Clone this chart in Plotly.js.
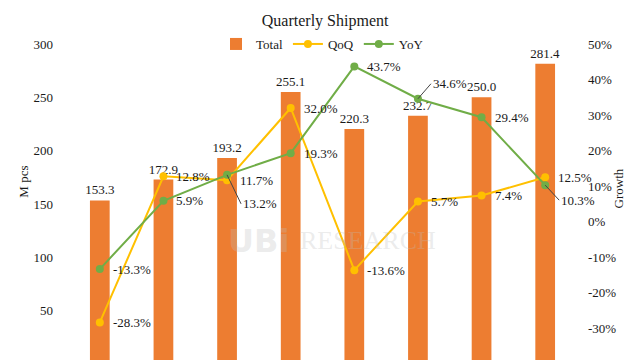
<!DOCTYPE html>
<html>
<head>
<meta charset="utf-8">
<script src="https://cdn.plot.ly/plotly-3.0.1.min.js"></script>
<style>
html,body{margin:0;padding:0;overflow:hidden;background:#fff;}
#chart{width:640px;height:372px;}
</style>
</head>
<body>
<div id="chart"></div>
<script>
const categories = ["Q1","Q2","Q3","Q4","Q5","Q6","Q7","Q8"];
const totalValues = [153.3, 172.9, 193.2, 255.1, 220.3, 232.7, 250.0, 281.4];
const qoqValues = [-0.283, 0.128, 0.117, 0.320, -0.136, 0.057, 0.074, 0.125];
const yoyValues = [-0.133, 0.059, 0.132, 0.193, 0.437, 0.346, 0.294, 0.103];
const totalLabels = ["153.3","172.9","193.2","255.1","220.3","232.7","250.0","281.4"];
const qoqLabels = ["-28.3%","12.8%","11.7%","32.0%","-13.6%","5.7%","7.4%","12.5%"];
const yoyLabels = ["-13.3%","5.9%","13.2%","19.3%","43.7%","34.6%","29.4%","10.3%"];
const leftTickVals = [50, 100, 150, 200, 250, 300];
const rightTickVals = [-0.3, -0.2, -0.1, 0, 0.1, 0.2, 0.3, 0.4, 0.5];
const rightTickText = ["-30%","-20%","-10%","0%","10%","20%","30%","40%","50%"];
// indices of YoY labels drawn with a leader line
const yoyLeader = [2, 5, 7];
const yoyLeaderOffsets = [[14, 29], [13, -15], [14, 15]];

const FONT = "Liberation Serif, Times New Roman, serif";
const TXT = "#1a1a1a";

const traces = [
  {
    type: "bar", name: "Total", x: categories, y: totalValues,
    text: totalLabels, textposition: "outside", cliponaxis: false, constraintext: "none",
    textfont: {family: FONT, size: 13, color: TXT},
    marker: {color: "#ED7D31"}, width: 0.31, yaxis: "y"
  },
  {
    type: "scatter", mode: "lines+markers", name: "QoQ", x: categories, y: qoqValues,
    line: {color: "#FFC000", width: 2}, marker: {color: "#FFC000", size: 8}, yaxis: "y2"
  },
  {
    type: "scatter", mode: "lines+markers", name: "YoY", x: categories, y: yoyValues,
    line: {color: "#70AD47", width: 2}, marker: {color: "#70AD47", size: 8}, yaxis: "y2"
  }
];

const labelFont = {family: FONT, size: 13, color: TXT};
const annotations = [];
qoqLabels.forEach((t, i) => annotations.push({
  x: categories[i], y: qoqValues[i], xref: "x", yref: "y2", text: t, showarrow: false,
  xanchor: "left", yanchor: "middle", xshift: 11, font: labelFont
}));
yoyLabels.forEach((t, i) => {
  const k = yoyLeader.indexOf(i);
  if (k >= 0) {
    annotations.push({
      x: categories[i], y: yoyValues[i], xref: "x", yref: "y2", text: t,
      showarrow: true, arrowhead: 0, arrowwidth: 1, arrowcolor: "#444",
      ax: yoyLeaderOffsets[k][0], ay: yoyLeaderOffsets[k][1], xanchor: "left", font: labelFont
    });
  } else {
    annotations.push({
      x: categories[i], y: yoyValues[i], xref: "x", yref: "y2", text: t, showarrow: false,
      xanchor: "left", yanchor: "middle", xshift: 11, font: labelFont
    });
  }
});

annotations.push(
  {xref: "paper", yref: "paper", x: -0.105, y: 0.57, text: "M pcs", textangle: -90, showarrow: false,
   font: labelFont},
  {xref: "paper", yref: "paper", x: 1.1, y: 0.55, text: "Growth", textangle: -90, showarrow: false,
   font: labelFont},
  {xref: "paper", yref: "paper", x: 0.375, y: 0.385, text: "<b>UBi</b>", showarrow: false,
   font: {family: "DejaVu Sans", size: 32, color: "rgba(190,190,190,0.3)"}},
  {xref: "paper", yref: "paper", x: 0.59, y: 0.385, text: "RESEARCH", showarrow: false,
   font: {family: FONT, size: 26, color: "rgba(190,190,190,0.3)"}}
);

const layout = {
  width: 640, height: 372,
  margin: {l: 68, r: 63, t: 44, b: 8, autoexpand: false},
  paper_bgcolor: "#fff", plot_bgcolor: "#fff",
  font: {family: FONT, size: 13, color: TXT},
  title: {text: "Quarterly Shipment", x: 0.508, xanchor: "center", y: 0.945, yanchor: "middle",
          font: {family: FONT, size: 16, color: TXT}},
  showlegend: true,
  legend: {orientation: "h", x: 0.5, xanchor: "center", y: 1.0, yanchor: "middle",
           font: {family: FONT, size: 13, color: TXT}, bgcolor: "rgba(0,0,0,0)", itemwidth: 30},
  xaxis: {type: "category", range: [-0.5, 7.5], showticklabels: false, showgrid: false, zeroline: false, showline: false, ticks: "", automargin: false},
  yaxis: {range: [0, 300], tickvals: leftTickVals, showgrid: false, zeroline: false, showline: false, automargin: false,
          ticks: "", ticklabelstandoff: 14, tickfont: {family: FONT, size: 13, color: TXT}},
  yaxis2: {range: [-0.4, 0.5], tickvals: rightTickVals, ticktext: rightTickText, overlaying: "y", side: "right",
           showgrid: false, zeroline: false, showline: false, ticks: "", ticklabelstandoff: 10, automargin: false,
           tickfont: {family: FONT, size: 13, color: TXT}},
  annotations: annotations
};

Plotly.newPlot("chart", traces, layout, {displayModeBar: false, staticPlot: true});
</script>
</body>
</html>
